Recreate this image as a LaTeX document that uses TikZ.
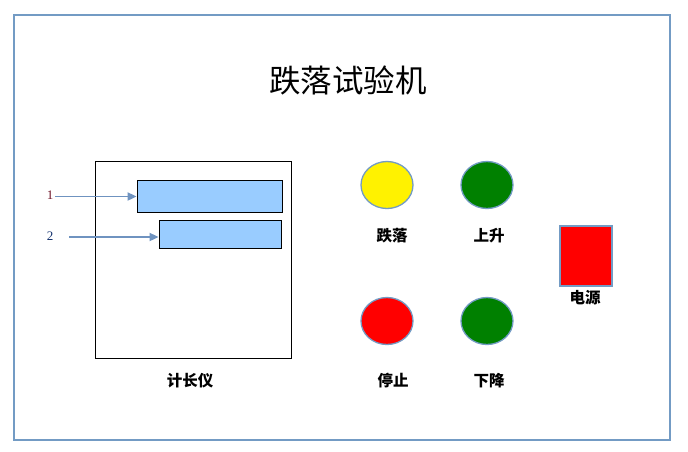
\documentclass[tikz,border=0pt]{standalone}
\usepackage{fontspec}
\setmainfont{Liberation Serif}
\newfontfamily\cjk{Noto Sans CJK SC}
\usetikzlibrary{arrows.meta,shapes.geometric}
\definecolor{frameblue}{RGB}{115,155,196}
\definecolor{lightblue}{RGB}{153,204,255}
\definecolor{arrowblue}{RGB}{111,147,192}
\definecolor{darkgreen}{RGB}{0,128,0}
\tikzset{
  lamp/.style={ellipse, draw=frameblue, line width=1.3pt, minimum width=52pt, minimum height=47pt, inner sep=0pt},
  lbl/.style={font=\cjk\bfseries\fontsize{15.5}{15.5}\selectfont, inner sep=0pt},
  bar/.style={draw=black, fill=lightblue, line width=0.8pt},
  ptr/.style={draw=arrowblue, line width=1.8pt, -{Triangle[length=9pt,width=8pt]}},
  num/.style={font=\fontsize{13}{13}\selectfont, inner sep=0pt}
}
\begin{document}
\begin{tikzpicture}[x=1pt,y=-1pt]
\useasboundingbox (0,0) rectangle (688,451);
\draw[frameblue, line width=1.6pt] (14,15) rectangle (670,440);
\node[font=\cjk\fontsize{31.5}{31.5}\selectfont] (title) at (348,80) {跌落试验机};
\node[draw=black, line width=0.7pt, minimum width=196pt, minimum height=197pt, inner sep=0pt] (meter) at (193,259.5) {};
\node[bar, minimum width=145pt, minimum height=32pt, inner sep=0pt] (bar1) at (209.5,196) {};
\node[bar, minimum width=122pt, minimum height=28pt, inner sep=0pt] (bar2) at (220,234) {};
\node[num, text={rgb,255:red,110;green,20;blue,40}] (n1) at (50,195) {1};
\node[num, text={rgb,255:red,20;green,50;blue,110}] (n2) at (50,236) {2};
\coordinate (a1) at (55,196.5);
\coordinate (a2) at (69,237);
\draw[ptr] (a1) -- (bar1.west |- a1);
\draw[ptr] (a2) -- (bar2.west |- a2);
\node[lbl] (meterlbl) at (190,381) {计长仪};
\node[lamp, fill=yellow] (drop) at (387,185) {};
\node[lamp, fill=darkgreen] (up) at (487,185) {};
\node[lamp, fill=red] (stop) at (387,321) {};
\node[lamp, fill=darkgreen] (down) at (487,321) {};
\node[lbl] (droplbl) at (392,236) {跌落};
\node[lbl] (uplbl) at (489,236) {上升};
\node[lbl] (stoplbl) at (393,381) {停止};
\node[lbl] (downlbl) at (489,381) {下降};
\node[draw=frameblue, fill=red, line width=1.8pt, minimum width=52pt, minimum height=60pt, inner sep=0pt] (power) at (586,256) {};
\node[lbl] (powerlbl) at (585,298) {电源};
\end{tikzpicture}
\end{document}
